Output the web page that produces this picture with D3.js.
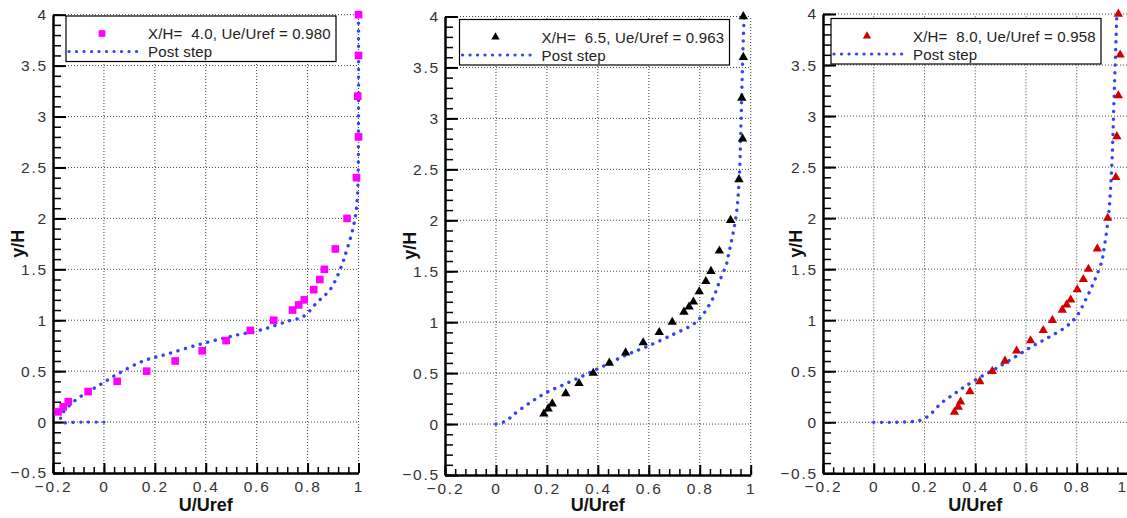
<!DOCTYPE html>
<html>
<head>
<meta charset="utf-8">
<script src="https://cdn.jsdelivr.net/npm/d3@7"></script>
<style>
  body { margin: 0; background: #fff; }
  svg { display: block; font-family: "Liberation Sans", Arial, sans-serif; }
  .tick text { fill: #333; font-size: 15.5px; letter-spacing: 1.8px; }
  .grid line { stroke: #444; stroke-width: 1; stroke-dasharray: 1,2; }
  .title { font-weight: bold; font-size: 18px; fill: #111; }
  .legend text { font-size: 15px; letter-spacing: 0.2px; fill: #222; white-space: pre; }
</style>
</head>
<body>
<svg width="1127" height="518"></svg>
<script>
// measured heights y/H (shared by all three stations)
var measY = [4.0, 3.6, 3.2, 2.8, 2.4, 2.0, 1.7, 1.5, 1.4, 1.3, 1.2, 1.15, 1.1, 1.0, 0.9, 0.8, 0.7, 0.6, 0.5, 0.4, 0.3, 0.2, 0.15, 0.1];

// measured U/Uref
var measU40 = [1.0, 1.0, 0.997, 1.0, 0.992, 0.955, 0.909, 0.866, 0.848, 0.824, 0.787, 0.765, 0.741, 0.667, 0.575, 0.480, 0.386, 0.280, 0.168, 0.052, -0.062, -0.140, -0.160, -0.180];
var measU65 = [0.971, 0.971, 0.965, 0.968, 0.954, 0.921, 0.877, 0.844, 0.824, 0.798, 0.775, 0.758, 0.738, 0.692, 0.641, 0.578, 0.509, 0.445, 0.382, 0.326, 0.274, 0.221, 0.205, 0.188];
var measU80 = [0.964, 0.971, 0.964, 0.958, 0.954, 0.922, 0.881, 0.846, 0.826, 0.802, 0.776, 0.760, 0.743, 0.704, 0.668, 0.618, 0.563, 0.517, 0.467, 0.418, 0.379, 0.342, 0.333, 0.318];

// "Post step" computed profiles
var postU40 = [0, -0.05, -0.1, -0.165, -0.17, -0.163, -0.114, -0.06, -0.013, 0.052, 0.155, 0.247, 0.378, 0.509, 0.627, 0.719, 0.785, 0.837, 0.890, 0.936, 0.949, 0.981, 0.995, 1.0, 1.0];
var postY40 = [0, 0, 0, 0, 0.04, 0.086, 0.21, 0.30, 0.37, 0.47, 0.6, 0.667, 0.765, 0.847, 0.912, 0.988, 1.04, 1.175, 1.306, 1.55, 1.65, 1.93, 2.19, 3.0, 4.0];
var postU65 = [0, 0.04, 0.068, 0.134, 0.199, 0.278, 0.356, 0.435, 0.513, 0.592, 0.696, 0.775, 0.808, 0.853, 0.879, 0.905, 0.912, 0.942, 0.955, 0.961, 0.968, 0.974];
var postY65 = [0, 0.03, 0.09, 0.21, 0.31, 0.40, 0.49, 0.585, 0.68, 0.76, 0.88, 0.98, 1.06, 1.24, 1.41, 1.57, 1.65, 2.03, 2.41, 2.87, 3.53, 4.0];
var postU80 = [0, 0.08, 0.162, 0.195, 0.228, 0.267, 0.313, 0.359, 0.418, 0.484, 0.563, 0.629, 0.695, 0.760, 0.800, 0.839, 0.872, 0.899, 0.905, 0.925, 0.938, 0.947, 0.958];
var postY80 = [0, 0, 0.01, 0.03, 0.09, 0.19, 0.27, 0.35, 0.44, 0.53, 0.65, 0.75, 0.84, 0.94, 1.04, 1.22, 1.40, 1.58, 1.66, 2.02, 2.51, 3.17, 4.0];

var legendLabels = ["X/H=  4.0, Ue/Uref = 0.980", "X/H=  6.5, Ue/Uref = 0.963", "X/H=  8.0, Ue/Uref = 0.958"];
var lineLabel = "Post step";

var xTicks = [-0.2, 0, 0.2, 0.4, 0.6, 0.8, 1];
var yTicks = [-0.5, 0, 0.5, 1, 1.5, 2, 2.5, 3, 3.5, 4];

var svg = d3.select("svg");

// panel placement (pixels)
var panels = [
    {x0: 53, x1: 358.5, y0: 473, y1: 14.7, legX: 66, legY: 16, mu: measU40, pu: postU40, py: postY40,
     marker: "square", color: "#ff00ff", ytx: 18},
    {x0: 445, x1: 750.7, y0: 475, y1: 16.5, legX: 459.5, legY: 19.5, mu: measU65, pu: postU65, py: postY65,
     marker: "triangle", color: "#000000", ytx: 410},
    {x0: 823, x1: 1127.5, y0: 473.3, y1: 14, legX: 831, legY: 18.5, mu: measU80, pu: postU80, py: postY80,
     marker: "triangle", color: "#d00000", ytx: 796}
];

var fmt = function (d) { return d3.format("")(+d.toFixed(1)); };

panels.forEach(function (p, i) {
    var x = d3.scaleLinear().domain([-0.2, 1]).range([p.x0, p.x1]),
        y = d3.scaleLinear().domain([-0.5, 4]).range([p.y0, p.y1]);

    var g = svg.append("g");

    // dotted grid
    var grid = g.append("g").attr("class", "grid");
    grid.selectAll(".vx").data(xTicks.slice(1)).enter().append("line")
        .attr("x1", function (d) { return x(d); }).attr("x2", function (d) { return x(d); })
        .attr("y1", y(-0.5)).attr("y2", y(4));
    grid.selectAll(".hy").data(yTicks.slice(1)).enter().append("line")
        .attr("y1", function (d) { return y(d); }).attr("y2", function (d) { return y(d); })
        .attr("x1", x(-0.2)).attr("x2", x(1));

    // minor ticks
    g.append("g")
        .attr("transform", "translate(" + x(-0.2) + ",0)")
        .call(d3.axisLeft(y).tickValues(d3.range(-5, 41).map(function (d) { return d / 10; }))
            .tickSize(-8).tickSizeOuter(0).tickFormat(""))
        .call(function (a) { a.select(".domain").remove(); a.selectAll("line").attr("stroke", "#000").attr("stroke-width", 1.5); });
    g.append("g")
        .attr("transform", "translate(0," + y(-0.5) + ")")
        .call(d3.axisBottom(x).tickValues(d3.range(-5, 26).map(function (d) { return d * 0.04; }))
            .tickSize(-6).tickSizeOuter(0).tickFormat(""))
        .call(function (a) { a.select(".domain").remove(); a.selectAll("line").attr("stroke", "#000").attr("stroke-width", 1.5); });

    // major ticks + labels
    g.append("g")
        .attr("transform", "translate(" + x(-0.2) + ",0)")
        .call(d3.axisLeft(y).tickValues(yTicks).tickSize(-13).tickSizeOuter(0).tickPadding(5).tickFormat(fmt))
        .call(function (a) {
            a.select(".domain").attr("stroke", "#000").attr("stroke-width", 2.5);
            a.selectAll("line").attr("stroke", "#000").attr("stroke-width", 2);
            a.selectAll("text").attr("font-family", null).attr("font-size", null);
        });
    var xa = g.append("g")
        .attr("transform", "translate(0," + y(-0.5) + ")")
        .call(d3.axisBottom(x).tickValues(xTicks).tickSize(-10).tickSizeOuter(0).tickPadding(8).tickFormat(fmt))
        .call(function (a) {
            a.select(".domain").attr("stroke", "#000").attr("stroke-width", 2.5);
            a.selectAll("line").attr("stroke", "#000").attr("stroke-width", 2);
            a.selectAll("text").attr("font-family", null).attr("font-size", null);
        });
    // last label of the right panel sits on the page edge
    if (i === 2) {
        xa.selectAll(".tick text").filter(function (d) { return d === 1; })
            .attr("text-anchor", "end").style("letter-spacing", "0px").attr("dx", "-2px");
    }

    // titles
    g.append("text").attr("class", "title")
        .attr("x", x(0.4)).attr("y", 511).attr("text-anchor", "middle").text("U/Uref");
    g.append("text").attr("class", "title")
        .attr("transform", "translate(" + (p.ytx + 6) + "," + y(1.75) + ") rotate(-90)")
        .attr("text-anchor", "middle").text("y/H");

    // post step line
    var line = d3.line()
        .x(function (d) { return x(d[0]); })
        .y(function (d) { return y(d[1]); })
        .curve(d3.curveCatmullRom.alpha(0.5));
    var pts = p.pu.map(function (u, k) { return [u, p.py[k]]; });
    g.append("path").datum(pts)
        .attr("d", line)
        .attr("fill", "none")
        .attr("stroke", "#3344ee")
        .attr("stroke-width", 3.4)
        .attr("stroke-linecap", "round")
        .attr("stroke-dasharray", "0.1,7.6");

    // measured points
    var sym = d3.symbol().type(p.marker === "square" ? d3.symbolSquare : d3.symbolTriangle)
        .size(p.marker === "square" ? 58 : 38);
    g.selectAll(".pt").data(p.mu.map(function (u, k) { return [u, measY[k]]; }))
        .enter().append("path")
        .attr("transform", function (d) { return "translate(" + x(d[0]) + "," + y(d[1]) + ")"; })
        .attr("d", sym)
        .attr("fill", p.color);

    // legend
    var leg = g.append("g").attr("class", "legend").attr("transform", "translate(" + p.legX + "," + p.legY + ")");
    leg.append("rect").attr("width", 270).attr("height", 45.5)
        .attr("fill", "#fff").attr("stroke", "#000").attr("stroke-width", 1.2);
    leg.append("path").attr("transform", "translate(36,17.5)")
        .attr("d", d3.symbol().type(p.marker === "square" ? d3.symbolSquare : d3.symbolTriangle)
            .size(p.marker === "square" ? 45 : 30))
        .attr("fill", p.color);
    leg.append("text").attr("x", 82).attr("y", 23).attr("xml:space", "preserve").text(legendLabels[i]);
    leg.append("line").attr("x1", 3).attr("x2", 72).attr("y1", 35.5).attr("y2", 35.5)
        .attr("stroke", "#3344ee").attr("stroke-width", 3.2)
        .attr("stroke-linecap", "round").attr("stroke-dasharray", "0.1,7.4");
    leg.append("text").attr("x", 82).attr("y", 41).text(lineLabel);
});
</script>
</body>
</html>
